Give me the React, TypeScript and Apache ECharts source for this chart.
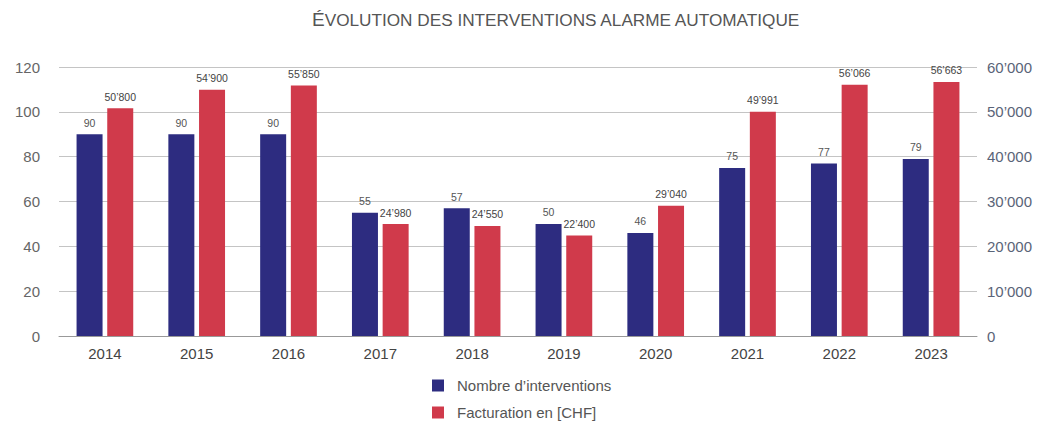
import React, { useEffect, useRef } from "react";
import * as echarts from "echarts";

const categories = ["2014", "2015", "2016", "2017", "2018", "2019", "2020", "2021", "2022", "2023"];
const interventions = [90, 90, 90, 55, 57, 50, 46, 75, 77, 79];
const facturation = [50800, 54900, 55850, 24980, 24550, 22400, 29040, 49991, 56066, 56663];
const seriesNames = ["Nombre d’interventions", "Facturation en [CHF]"];

const fmt = (v: number) => {
  const s = String(Math.round(v));
  return s.replace(/\B(?=(\d{3})+(?!\d))/g, "’");
};

export default function App() {
  const ref = useRef<HTMLDivElement>(null);
  useEffect(() => {
    document.body.style.margin = "0";
    const chart = echarts.init(ref.current!, undefined, { renderer: "svg" });
    const font = "Liberation Sans, Arial, Helvetica, sans-serif";
    chart.setOption({
      animation: false,
      backgroundColor: "#ffffff",
      textStyle: { fontFamily: font },
      title: {
        text: "{a|É}{b|VOLUTION DES INTERVENTIONS ALARME AUTOMATIQUE}",
        left: 312,
        top: 10,
        padding: 0,
        textStyle: {
          fontWeight: "normal",
          rich: {
            a: { fontSize: 19, color: "#555", fontFamily: font, fontWeight: "normal" },
            b: { fontSize: 17.2, color: "#555", fontFamily: font, fontWeight: "normal" },
          },
        },
      },
      legend: {
        orient: "vertical",
        left: 432,
        top: 378,
        padding: 0,
        itemWidth: 12,
        itemHeight: 12,
        itemGap: 12,
        icon: "rect",
        textStyle: { fontSize: 15, color: "#555", fontFamily: font, padding: [0, 0, 0, 8] },
        data: seriesNames,
      },
      grid: { left: 59, right: 68, top: 67, bottom: 86, containLabel: false },
      xAxis: {
        type: "category",
        data: categories,
        axisLine: { lineStyle: { color: "#999" } },
        axisTick: { show: false },
        axisLabel: { fontSize: 15, color: "#444", margin: 10 },
      },
      yAxis: [
        {
          type: "value",
          min: 0,
          max: 120,
          interval: 20,
          axisLine: { show: false },
          axisTick: { show: false },
          axisLabel: { fontSize: 15, color: "#666", margin: 19 },
          splitLine: { lineStyle: { color: "#c4c4c4", width: 1 } },
        },
        {
          type: "value",
          min: 0,
          max: 60000,
          interval: 10000,
          axisLine: { show: false },
          axisTick: { show: false },
          axisLabel: { fontSize: 15, color: "#5a6478", margin: 10, formatter: (v: number) => fmt(v) },
          splitLine: { show: false },
        },
      ],
      series: [
        {
          name: seriesNames[0],
          type: "bar",
          yAxisIndex: 0,
          data: interventions,
          barWidth: 26,
          barGap: "18%",
          itemStyle: { color: "#2d2c80" },
          label: { show: true, position: "top", fontSize: 10.5, color: "#555", distance: 6 },
        },
        {
          name: seriesNames[1],
          type: "bar",
          yAxisIndex: 1,
          data: facturation,
          barWidth: 26,
          itemStyle: { color: "#d03a4b" },
          label: {
            show: true,
            position: "top",
            fontSize: 10.5,
            color: "#444",
            distance: 6,
            formatter: (p: any) => fmt(p.value),
          },
        },
      ],
    });
    return () => chart.dispose();
  }, []);
  return <div ref={ref} style={{ width: 1045, height: 422 }} />;
}
